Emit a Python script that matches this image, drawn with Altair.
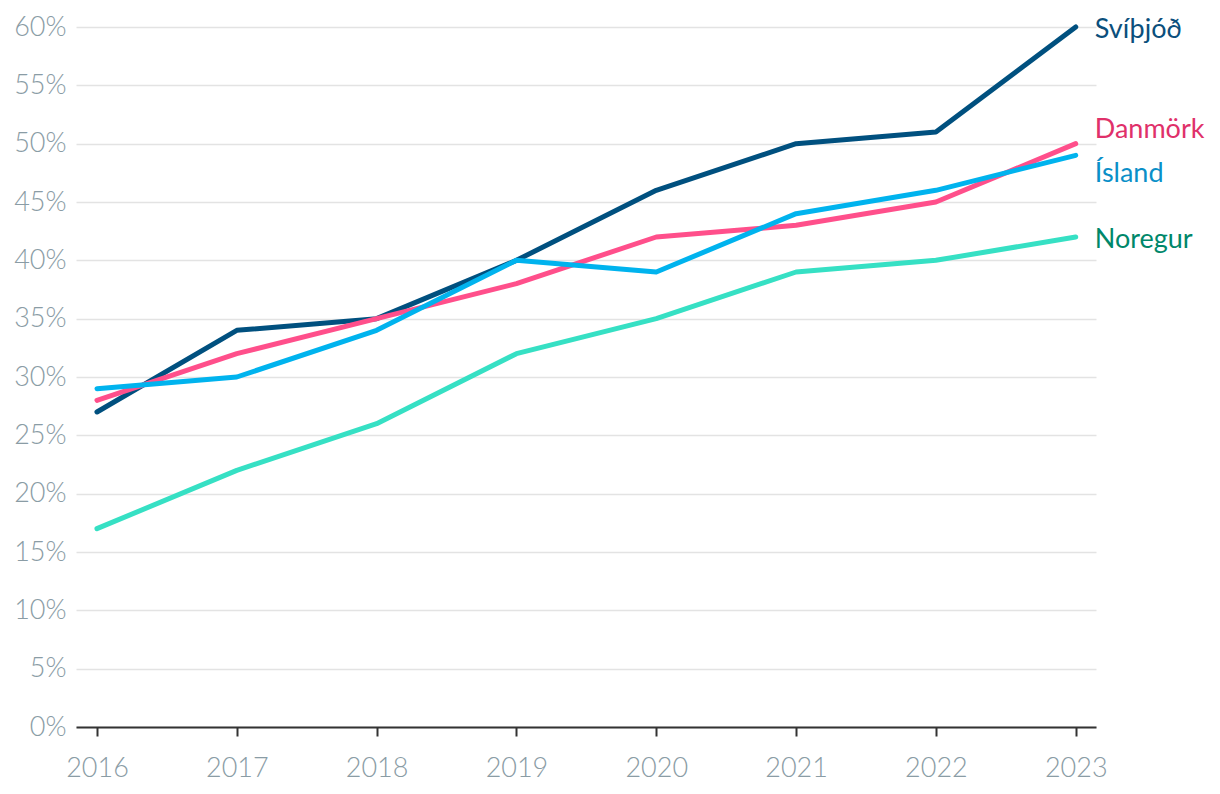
import altair as alt
import pandas as pd

years = [2016, 2017, 2018, 2019, 2020, 2021, 2022, 2023]
countries = ["Svíþjóð", "Danmörk", "Ísland", "Noregur"]
svithjod = [27, 34, 35, 40, 46, 50, 51, 60]
danmork = [28, 32, 35, 38, 42, 43, 45, 50]
island = [29, 30, 34, 40, 39, 44, 46, 49]
noregur = [17, 22, 26, 32, 35, 39, 40, 42]

line_colors = ["#00507f", "#ff4f8b", "#00b3ee", "#36e0c4"]
label_colors = ["#0b4f7c", "#e0306a", "#0a8fc8", "#00876a"]
label_dy = [3, -14, 19, 3]

series = [svithjod, danmork, island, noregur]
rows = []
for c, vals in zip(countries, series):
    for y, v in zip(years, vals):
        rows.append({"year": y, "country": c, "value": v / 100})
df = pd.DataFrame(rows)

x_enc = alt.X("year:Q", scale=alt.Scale(domain=[2015.85, 2023.145], nice=False, zero=False),
              axis=alt.Axis(values=years, format="d", title=None, grid=False,
                            domainColor="#333333", domainWidth=2, tickColor="#333333",
                            tickWidth=2, tickSize=9, labelFontSize=27, labelFont="Lato",
                            labelFontWeight=300, labelColor="#8a9ca5", labelPadding=19))
y_enc = alt.Y("value:Q", scale=alt.Scale(domain=[0, 0.6], nice=False),
              axis=alt.Axis(values=[i / 100 for i in range(0, 61, 5)], format=".0%", title=None,
                            domain=False, ticks=False, gridColor="#e3e3e3", gridWidth=1.5,
                            labelFontSize=27, labelFont="Lato", labelFontWeight=300,
                            labelColor="#8a9ca5", labelPadding=10))

lines = alt.Chart(df).mark_line(strokeWidth=5, strokeCap="round", strokeJoin="round").encode(
    x=x_enc, y=y_enc,
    color=alt.Color("country:N", scale=alt.Scale(domain=countries, range=line_colors), legend=None),
)

layers = [lines]
end = df[df.year == years[-1]]
for c, col, dy in zip(countries, label_colors, label_dy):
    layers.append(
        alt.Chart(end[end.country == c]).mark_text(
            align="left", baseline="middle", dx=19, dy=dy, fontSize=27, font="Lato",
            fontWeight=400, color=col
        ).encode(x="year:Q", y="value:Q", text="country:N")
    )

chart = alt.layer(*layers).properties(width=1020, height=700).configure_view(stroke=None)
chart.save("out.html", embed_options={"renderer": "svg", "actions": False})
